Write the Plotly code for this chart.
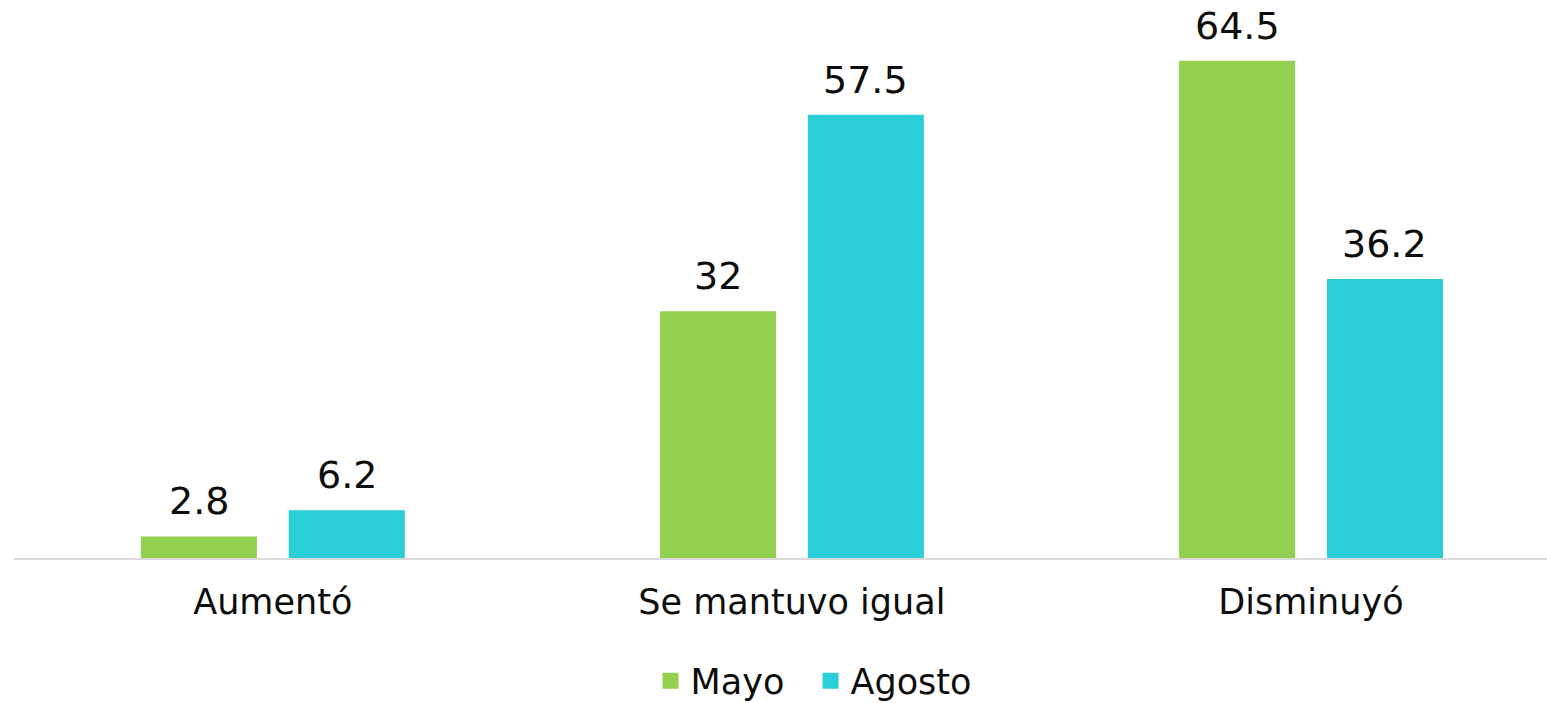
import plotly.graph_objects as go

categories = ["Aumentó", "Se mantuvo igual", "Disminuyó"]
mayo = [2.8, 32, 64.5]
agosto = [6.2, 57.5, 36.2]
series_names = ["Mayo", "Agosto"]
colors = ["#92D050", "#29CED7"]

FONT = "DejaVu Sans"
TXT = "#0d0d0d"
FS_VAL = 38
FS_TICK = 35

BAR_W = 0.2235
offsets = [-0.254, 0.0308]
PX_PER_CAT = 1533 / (2.4547 + 0.4985)

fig = go.Figure()
for name, vals, col, off in zip(series_names, [mayo, agosto], colors, offsets):
    fig.add_trace(go.Bar(
        x=categories, y=vals, name=name, marker=dict(color=col, line=dict(width=0)),
        width=BAR_W, offset=off, showlegend=False, hoverinfo="x+y",
    ))

for name, col in zip(series_names, colors):
    # legend proxy
    fig.add_trace(go.Scatter(
        x=[None], y=[None], mode="markers", name=name,
        marker=dict(symbol="square", size=22, color=col),
        showlegend=True,
    ))

# value labels
for vals, off in zip([mayo, agosto], offsets):
    shift = (off + BAR_W / 2) * PX_PER_CAT
    for c, v in zip(categories, vals):
        fig.add_annotation(
            x=c, y=v, text=f"{v:g}", showarrow=False, xshift=shift, yshift=11,
            yanchor="bottom", font=dict(family=FONT, size=FS_VAL, color=TXT),
        )

fig.update_layout(
    width=1547, height=703,
    margin=dict(l=14, r=0, t=3, b=145, autoexpand=False),
    paper_bgcolor="white", plot_bgcolor="white",
    barmode="overlay",
    font=dict(family=FONT, size=FS_TICK, color=TXT),
    showlegend=True,
    legend=dict(orientation="h", x=0.5196, xanchor="center", y=-0.2216, yanchor="middle",
                font=dict(family=FONT, size=FS_TICK, color=TXT), itemsizing="trace",
                traceorder="normal", entrywidth=115),
    xaxis=dict(range=[-0.4985, 2.4547], showline=True, linecolor="#d9d9d9", linewidth=2,
               showgrid=False, ticks="outside", ticklen=12, tickcolor="white",
               tickfont=dict(family=FONT, size=FS_TICK, color=TXT), fixedrange=True),
    yaxis=dict(range=[0, 72], visible=False, showgrid=False, zeroline=False, fixedrange=True),
)

fig.write_html("out.html", config={"displayModeBar": False},
               post_script="document.body.style.margin='0';")
